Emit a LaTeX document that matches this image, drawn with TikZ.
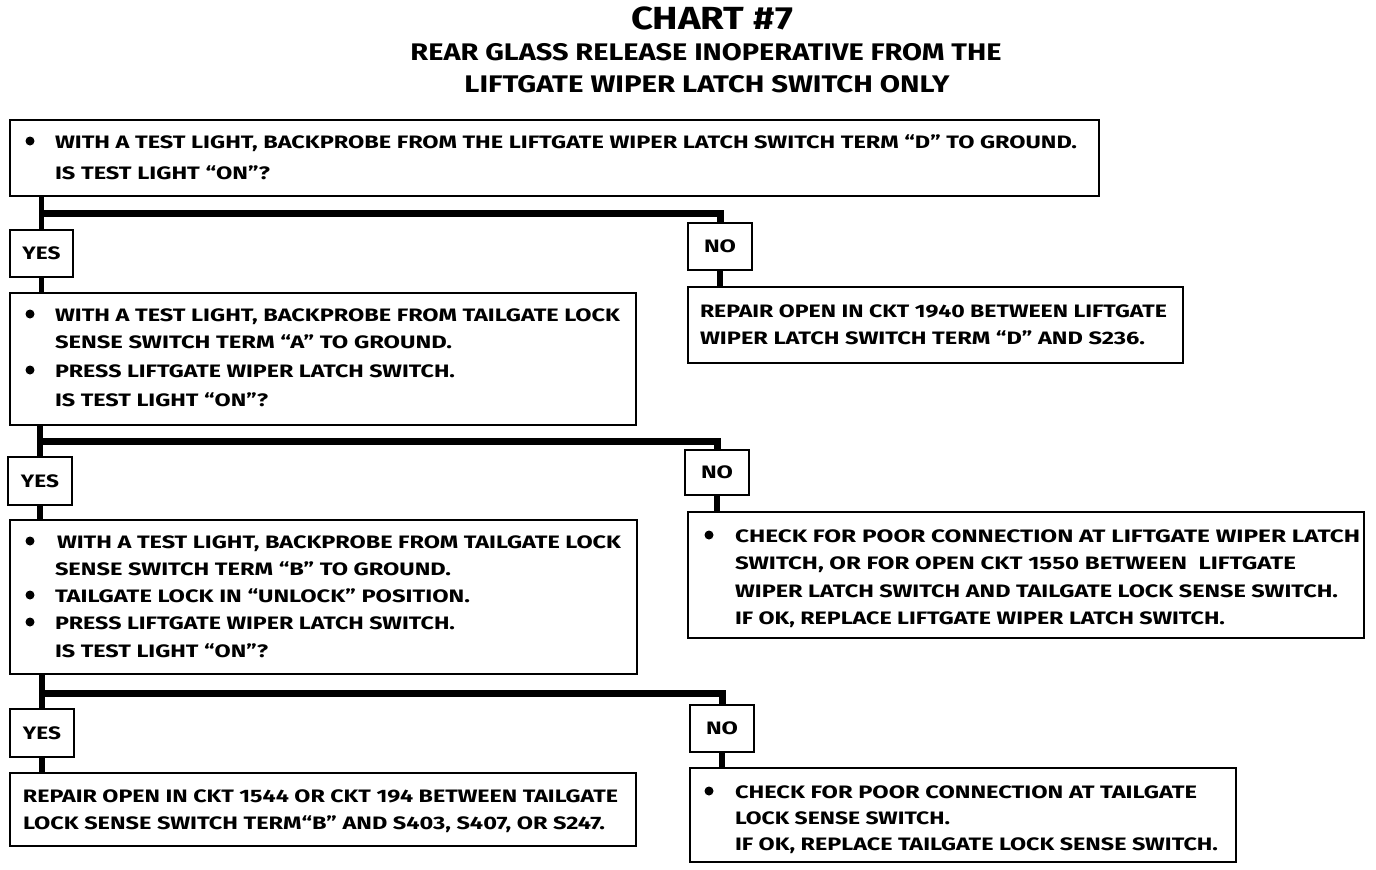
\documentclass[tikz,border=0pt]{standalone}
\usepackage{fontspec}
\usepackage{graphicx}
\setmainfont{Fira Sans}
\newcommand\fw[2]{\resizebox{#1pt}{\height}{#2}}
\tikzset{
  x=1pt, y=-1pt,
  box/.style={draw, line width=1.8pt, inner sep=0pt, outer sep=0pt, anchor=north west},
  lbl/.style={draw, line width=1.8pt, inner sep=0pt, outer sep=0pt, anchor=north west,
     font=\fontsize{18}{20}\selectfont\bfseries},
  txt/.style={anchor=base west, inner sep=0pt, outer sep=0pt, font=\fontsize{18}{20}\selectfont\bfseries},
  ttl/.style={anchor=base, inner sep=0pt, outer sep=0pt, font=\fontsize{24}{28}\selectfont\bfseries},
  dot/.style={circle, fill, inner sep=0pt, minimum size=9pt},
  trunk/.style={line width=5.5pt},
  branch/.style={line width=7pt},
}
\begin{document}
\begin{tikzpicture}
\useasboundingbox (0,0) rectangle (1376,870);
% title
\node[ttl, font=\fontsize{32}{36}\selectfont\bfseries] (t0) at (712,29) {\fw{162}{CHART \#7}};
\node[ttl] (t1) at (706,60) {\fw{591}{REAR GLASS RELEASE INOPERATIVE FROM THE}};
\node[ttl] (t2) at (707,92) {\fw{485}{LIFTGATE WIPER LATCH SWITCH ONLY}};

% boxes
\node[box, minimum width=1089pt, minimum height=76pt] (b1) at (10,120) {};
\node[box, minimum width=626pt, minimum height=132pt] (b2) at (10,293) {};
\node[box, minimum width=627pt, minimum height=154pt] (b3) at (10,520) {};
\node[box, minimum width=626pt, minimum height=73pt] (b4) at (10,773) {};
\node[box, minimum width=495pt, minimum height=76pt] (r1) at (688,287) {};
\node[box, minimum width=676pt, minimum height=126pt] (r2) at (688,512) {};
\node[box, minimum width=546pt, minimum height=94pt] (r3) at (690,768) {};

% yes / no labels
\node[lbl, minimum width=63pt, minimum height=47pt] (y1) at (10,230) {\fw{38}{YES}};
\node[lbl, minimum width=64pt, minimum height=48pt] (y2) at (8,457) {\fw{38}{YES}};
\node[lbl, minimum width=64pt, minimum height=48pt] (y3) at (10,709) {\fw{38}{YES}};
\node[lbl, minimum width=64pt, minimum height=47pt] (n1) at (688,223) {\fw{32}{NO}};
\node[lbl, minimum width=64pt, minimum height=45pt] (n2) at (685,450) {\fw{32}{NO}};
\node[lbl, minimum width=64pt, minimum height=47pt] (n3) at (690,705) {\fw{32}{NO}};

% junction coordinates
\coordinate (j1) at (42,213);
\coordinate (j2) at (42,441);
\coordinate (j3) at (42,693);

% connectors
\draw[trunk] (y1.north |- b1.south) -- (y1.north);
\draw[trunk] (y1.south) -- (y1.south |- b2.north);
\draw[branch] (j1) -| (n1.north);
\draw[trunk] (n1.south) -- (n1.south |- r1.north);

\draw[trunk] (y2.north |- b2.south) -- (y2.north);
\draw[trunk] (y2.south) -- (y2.south |- b3.north);
\draw[branch] (j2) -| (n2.north);
\draw[trunk] (n2.south) -- (n2.south |- r2.north);

\draw[trunk] (y3.north |- b3.south) -- (y3.north);
\draw[trunk] (y3.south) -- (y3.south |- b4.north);
\draw[branch] (j3) -| (n3.north);
\draw[trunk] (n3.south) -- (n3.south |- r3.north);

% box 1 text
\node[dot] (d11) at (30,141) {};
\node[txt] (b1a) at (55,148) {\fw{1022}{WITH A TEST LIGHT, BACKPROBE FROM THE LIFTGATE WIPER LATCH SWITCH TERM “D” TO GROUND.}};
\node[txt] (b1b) at (55,179) {\fw{215}{IS TEST LIGHT “ON”?}};

% box 2 text
\node[dot] (d21) at (30,314) {};
\node[txt] (b2a) at (55,321) {\fw{565}{WITH A TEST LIGHT, BACKPROBE FROM TAILGATE LOCK}};
\node[txt] (b2b) at (55,348) {\fw{397}{SENSE SWITCH TERM “A” TO GROUND.}};
\node[dot] (d22) at (30,370) {};
\node[txt] (b2c) at (55,377) {\fw{400}{PRESS LIFTGATE WIPER LATCH SWITCH.}};
\node[txt] (b2d) at (55,406) {\fw{213}{IS TEST LIGHT “ON”?}};

% box 3 text
\node[dot] (d31) at (30,541) {};
\node[txt] (b3a) at (57,548) {\fw{564}{WITH A TEST LIGHT, BACKPROBE FROM TAILGATE LOCK}};
\node[txt] (b3b) at (55,575) {\fw{396}{SENSE SWITCH TERM “B” TO GROUND.}};
\node[dot] (d32) at (30,595) {};
\node[txt] (b3c) at (55,602) {\fw{415}{TAILGATE LOCK IN “UNLOCK” POSITION.}};
\node[dot] (d33) at (30,622) {};
\node[txt] (b3d) at (55,629) {\fw{400}{PRESS LIFTGATE WIPER LATCH SWITCH.}};
\node[txt] (b3e) at (55,657) {\fw{213}{IS TEST LIGHT “ON”?}};

% box 4 text
\node[txt] (b4a) at (23,802) {\fw{595}{REPAIR OPEN IN CKT 1544 OR CKT 194 BETWEEN TAILGATE}};
\node[txt] (b4b) at (23,829) {\fw{582}{LOCK SENSE SWITCH TERM“B” AND S403, S407, OR S247.}};

% result 1
\node[txt] (r1a) at (700,317) {\fw{467}{REPAIR OPEN IN CKT 1940 BETWEEN LIFTGATE}};
\node[txt] (r1b) at (700,344) {\fw{445}{WIPER LATCH SWITCH TERM “D” AND S236.}};

% result 2
\node[dot] (e21) at (709,535) {};
\node[txt] (r2a) at (735,542) {\fw{625}{CHECK FOR POOR CONNECTION AT LIFTGATE WIPER LATCH}};
\node[txt] (r2b) at (735,569) {\fw{561}{SWITCH, OR FOR OPEN CKT 1550 BETWEEN \ LIFTGATE}};
\node[txt] (r2c) at (735,597) {\fw{603}{WIPER LATCH SWITCH AND TAILGATE LOCK SENSE SWITCH.}};
\node[txt] (r2d) at (735,624) {\fw{490}{IF OK, REPLACE LIFTGATE WIPER LATCH SWITCH.}};

% result 3
\node[dot] (e31) at (709,791) {};
\node[txt] (r3a) at (735,798) {\fw{462}{CHECK FOR POOR CONNECTION AT TAILGATE}};
\node[txt] (r3b) at (735,824) {\fw{215}{LOCK SENSE SWITCH.}};
\node[txt] (r3c) at (735,850) {\fw{483}{IF OK, REPLACE TAILGATE LOCK SENSE SWITCH.}};
\end{tikzpicture}
\end{document}
